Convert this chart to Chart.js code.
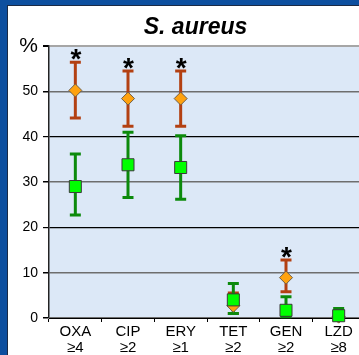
<!DOCTYPE html>
<html>
<head>
<meta charset="utf-8">
<script src="https://cdn.jsdelivr.net/npm/chart.js@4.4.0/dist/chart.umd.min.js"></script>
<style>
  html, body { margin: 0; padding: 0; width: 359px; height: 355px; overflow: hidden; background: #fff; }
  #wrap { position: absolute; left: 0; top: 0; width: 380px; height: 355px; }
</style>
</head>
<body>
<div id="wrap"><canvas id="c" width="380" height="355"></canvas></div>
<script>
// ---- data ----
const drugs = ['OXA', 'CIP', 'ERY', 'TET', 'GEN', 'LZD'];
const breakpoints = ['≥4', '≥2', '≥1', '≥2', '≥2', '≥8'];
const orangeVal = [50.2, 48.4, 48.4, 2.7, 8.9, 0.3];
const orangeLo  = [44.1, 42.3, 42.3, 1.0, 5.8, 0.0];
const orangeHi  = [56.4, 54.5, 54.5, 5.5, 12.8, 1.6];
const greenVal  = [29.0, 33.8, 33.2, 4.0, 1.7, 0.5];
const greenLo   = [22.7, 26.6, 26.2, 1.0, 0.3, 0.0];
const greenHi   = [36.2, 41.0, 40.2, 7.6, 4.7, 2.1];
const significant = [true, true, true, false, true, false];
const yTicks = [0, 10, 20, 30, 40, 50, 60];
const yTickText = ['0', '10', '20', '30', '40', '50', '%'];
const titleText = 'S. aureus';

const FONT = '"Liberation Sans", Arial, sans-serif';
const BROWN = '#b34012';
const GREENBAR = '#0c8a0c';

const labels = drugs.map((d, i) => [d, breakpoints[i]]);

const framePlugin = {
  id: 'frame',
  beforeDraw(chart) {
    const ctx = chart.ctx, a = chart.chartArea;
    const W = chart.width, H = chart.height;
    ctx.save();
    ctx.fillStyle = '#ffffff';
    ctx.fillRect(0, 0, W, H);
    ctx.fillStyle = '#dce8f7';
    ctx.fillRect(a.left, a.top, a.right - a.left, a.bottom - a.top);
    ctx.fillStyle = '#0d4f9f';
    ctx.fillRect(0, 0, 7, H);
    ctx.fillRect(0, 0, W, 5);
    ctx.fillStyle = '#1b2a44';
    ctx.fillRect(7, 5, 1, H - 5);
    ctx.fillRect(7, 5, W - 7, 1);
    ctx.restore();
  },
  afterDraw(chart) {
    const ctx = chart.ctx;
    ctx.save();
    ctx.fillStyle = '#000';
    ctx.font = 'italic bold 23px ' + FONT;
    ctx.textAlign = 'center';
    ctx.textBaseline = 'alphabetic';
    ctx.fillText(titleText, 195.5, 34);
    ctx.restore();
  }
};

function drawBars(ctx, xs, y, lo, hi, color) {
  ctx.strokeStyle = color;
  ctx.lineCap = 'butt';
  for (let i = 0; i < lo.length; i++) {
    const x = xs.getPixelForValue(i);
    const yl = y.getPixelForValue(lo[i]);
    const yh = y.getPixelForValue(hi[i]);
    ctx.lineWidth = 3;
    ctx.beginPath();
    ctx.moveTo(x, yl); ctx.lineTo(x, yh);
    ctx.stroke();
    ctx.beginPath();
    ctx.moveTo(x - 5.5, yl); ctx.lineTo(x + 5.5, yl);
    ctx.moveTo(x - 5.5, yh); ctx.lineTo(x + 5.5, yh);
    ctx.stroke();
  }
}

const errPlugin = {
  id: 'errbars',
  beforeDatasetsDraw(chart) {
    const ctx = chart.ctx, xs = chart.scales.x, y = chart.scales.y;
    ctx.save();
    drawBars(ctx, xs, y, orangeLo, orangeHi, BROWN);
    drawBars(ctx, xs, y, greenLo, greenHi, GREENBAR);
    ctx.restore();
  },
  afterDatasetsDraw(chart) {
    const ctx = chart.ctx, xs = chart.scales.x, y = chart.scales.y;
    ctx.save();
    ctx.fillStyle = '#000';
    ctx.font = 'bold 28px ' + FONT;
    ctx.textAlign = 'center';
    ctx.textBaseline = 'alphabetic';
    const m = ctx.measureText('*');
    const half = (m.actualBoundingBoxAscent - m.actualBoundingBoxDescent) / 2;
    for (let i = 0; i < significant.length; i++) {
      if (!significant[i]) continue;
      const x = xs.getPixelForValue(i);
      const yh = y.getPixelForValue(orangeHi[i]);
      const cy = yh - 7.5;
      ctx.fillText('*', x + 0.5, cy + half);
    }
    ctx.restore();
  }
};

new Chart(document.getElementById('c'), {
  type: 'line',
  data: {
    labels: labels,
    datasets: [
      {
        data: greenVal,
        showLine: false,
        pointStyle: 'rect',
        pointRadius: 8.5,
        pointBackgroundColor: '#00ff00',
        pointBorderColor: '#3a3a3a',
        pointBorderWidth: 1,
        clip: false
      },
      {
        data: orangeVal,
        showLine: false,
        pointStyle: 'rectRot',
        pointRadius: 6.5,
        pointBackgroundColor: '#ffa20f',
        pointBorderColor: '#6f5e48',
        pointBorderWidth: 1,
        clip: false
      }
    ]
  },
  options: {
    responsive: false,
    animation: false,
    events: [],
    layout: { padding: { left: 0, right: 15, top: 46, bottom: 0 } },
    plugins: { legend: { display: false }, tooltip: { enabled: false }, title: { display: false } },
    scales: {
      x: {
        type: 'category',
        offset: true,
        afterFit(s) { s.height = 37; },
        grid: { offset: true, drawOnChartArea: false, drawTicks: true, tickLength: 4, tickColor: '#000' },
        border: { color: '#000', width: 1 },
        ticks: {
          color: '#000',
          padding: 2,
          font: { family: FONT, size: 15, lineHeight: 1.05 },
          maxRotation: 0, autoSkip: false
        }
      },
      y: {
        min: 0, max: 60,
        afterFit(s) { s.width = 49; },
        afterBuildTicks(s) { s.ticks = yTicks.map(v => ({ value: v })); },
        grid: {
          color(c) {
            const v = c.tick ? c.tick.value : 0;
            if (v === 60) return '#a6a6a6';
            if (v === 40 || v === 20) return '#000';
            return '#6e6e6e';
          },
          lineWidth(c) {
            const v = c.tick ? c.tick.value : 0;
            return v === 60 ? 2 : (v === 40 || v === 20 ? 1.2 : 1.5);
          },
          tickColor: '#000',
          tickLength: 6
        },
        border: { color: '#222', width: 1.5 },
        ticks: {
          color: '#000',
          padding: 5,
          callback(v) { const k = yTicks.indexOf(v); return k >= 0 ? yTickText[k] : ''; },
          font(c) {
            if (c.tick && c.tick.value === 60) return { family: FONT, size: 21 };
            return { family: FONT, size: 14 };
          }
        }
      }
    }
  },
  plugins: [framePlugin, errPlugin]
});
</script>
</body>
</html>
